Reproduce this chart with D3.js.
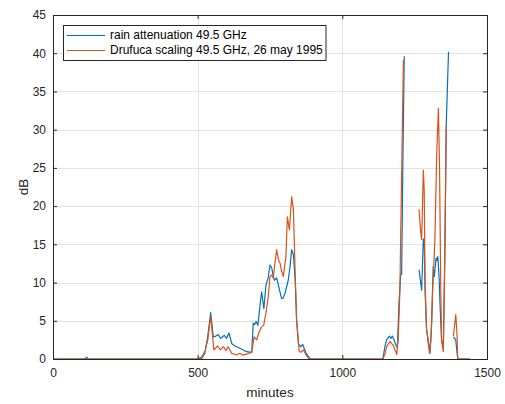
<!DOCTYPE html>
<html>
<head>
<meta charset="utf-8">
<script src="https://cdn.jsdelivr.net/npm/d3@7"></script>
<style>
  html, body { margin: 0; padding: 0; background: #ffffff; }
  svg { display: block; font-family: "Liberation Sans", Arial, Helvetica, sans-serif; }
</style>
</head>
<body>
<svg id="chart" width="505" height="404"></svg>
<script>
// Measured rain attenuation (minutes of day, dB); null marks a gap in the record
const rainMinutes = [0, 110, 116, 122, 500, 515, 525, 535, 545, 554, 563, 571, 580, 592, 600, 608, 618, 629, 646, 669, 687,
  692, 697, 702, 708, 715, 721, 729, 736, 743, 750, 756, 761, 765, 773, 780, 790, 796, 802, 813, 819, 825, 831, 837, 842,
  848, 856, 863, 869, 875, 883, 890, 1140, 1147, 1153, 1163, 1168, 1173, 1179, 1185, 1190, 1196, 1202, 1205, 1209, 1214,
  1240,
  1265, 1270, 1274, 1280, 1283, 1286, 1291, 1297, 1303, 1309, 1314, 1318, 1324, 1327, 1330, 1334, 1338, 1343, 1349, 1355,
  1359, 1367,
  1375,
  1384, 1392, 1396, 1399, 1440];
const rainDb = [0, 0, 0.25, 0, 0, 0.1, 0.8, 3.0, 6.06, 2.9, 3.0, 3.2, 2.7, 3.1, 2.7, 3.4, 2.0, 1.7, 1.4, 0.96, 0.87,
  4.7, 4.5, 4.9, 4.4, 6.8, 8.8, 6.6, 9.7, 10.5, 12.3, 11.9, 10.9, 10.3, 10.6, 9.5, 7.9, 8.0, 8.6, 10.3, 12.0, 14.3, 13.6, 10.3, 5.1,
  2.05, 1.6, 1.9, 1.3, 0.74, 0.3, 0, 0, 1.6, 2.5, 3.0, 2.7, 3.0, 2.5, 1.8, 1.5, 7.5, 11.2, 11.1, 25.0, 39.6,
  null,
  11.7, 10.2, 9.0, 15.6, 15.8, 9.0, 3.8, 2.5, 0.74, 4.7, 12.1, 10.8, 13.2, 12.9, 13.4, 11.0, 6.8, 2.5, 1.5, 15.6,
  30.4, 40.2,
  null,
  2.9, 2.5, 1.0, 0, 0];

// Drufuca frequency scaling prediction at 49.5 GHz
const scaledMinutes = [0, 500, 514, 525, 535, 545, 556, 569, 578, 589, 598, 605, 618, 635, 646, 657, 674, 687,
  695, 704, 713, 721, 728, 736, 744, 750, 756, 761, 767, 773, 779, 785, 790, 796, 805, 810, 817, 825, 831, 837, 842,
  851, 858, 865, 875, 885, 1140, 1147, 1153, 1165, 1171, 1176, 1182, 1188, 1193, 1199, 1205, 1211,
  1240,
  1265, 1270, 1274, 1277, 1280, 1283, 1286, 1291, 1297, 1301, 1306, 1312, 1320, 1326, 1332, 1336, 1340, 1343, 1349,
  1353, 1359,
  1375,
  1384, 1392, 1396, 1399, 1442];
const scaledDb = [0, 0, 0.3, 1.0, 2.5, 5.6, 1.2, 1.7, 1.2, 1.6, 1.1, 1.6, 0.74, 0.52, 0.74, 0.5, 0.7, 0.9,
  2.9, 2.5, 3.6, 4.2, 4.4, 6.0, 8.2, 10.8, 11.0, 10.6, 12.5, 14.3, 13.0, 12.5, 11.5, 10.8, 13.4, 18.6, 16.9, 21.2, 19.5, 11.2, 5.1,
  0.96, 0.9, 1.2, 0.5, 0, 0, 0.6, 1.6, 2.3, 2.0, 1.8, 1.2, 0.6, 2.5, 9.0, 24.3, 39.1,
  null,
  19.6, 17.0, 15.6, 20.0, 24.7, 22.0, 10.0, 4.0, 2.0, 0.8, 2.5, 9.0, 15.6, 26.5, 32.8, 25.0, 10.0, 2.5, 0.96,
  10.0, 30.4,
  null,
  3.0, 5.8, 3.5, 0, 0];

const xTicks = [0, 500, 1000, 1500];
const yTicks = [0, 5, 10, 15, 20, 25, 30, 35, 40, 45];
const seriesNames = ["rain attenuation 49.5 GHz", "Drufuca scaling 49.5 GHz, 26 may 1995"];
const seriesColors = ["#0072BD", "#D95319"];

const svg = d3.select("#chart");
const plot = { left: 53, top: 15, right: 487, bottom: 359 };
const ink = "#262626";

const x = d3.scaleLinear().domain([0, 1500]).range([plot.left, plot.right]);
const y = d3.scaleLinear().domain([0, 45]).range([plot.bottom, plot.top]);

// grid
const grid = svg.append("g").attr("stroke", "#e3e3e3").attr("stroke-width", 1);
grid.selectAll(".gx").data(xTicks.slice(1, -1)).join("line")
  .attr("x1", d => Math.round(x(d)) + 0.5).attr("x2", d => Math.round(x(d)) + 0.5)
  .attr("y1", plot.top).attr("y2", plot.bottom);
grid.selectAll(".gy").data(yTicks.slice(1, -1)).join("line")
  .attr("y1", d => Math.round(y(d)) + 0.5).attr("y2", d => Math.round(y(d)) + 0.5)
  .attr("x1", plot.left).attr("x2", plot.right);

// series
const seriesData = [
  rainMinutes.map((m, i) => [m, rainDb[i]]),
  scaledMinutes.map((m, i) => [m, scaledDb[i]])
];
const line = d3.line()
  .defined(d => d[1] !== null)
  .x(d => x(d[0]))
  .y(d => y(d[1]));

svg.append("g").selectAll("path").data(seriesData).join("path")
  .attr("d", line)
  .attr("fill", "none")
  .attr("stroke", (d, i) => seriesColors[i])
  .attr("stroke-width", 1.2)
  .attr("stroke-linejoin", "round");

// axes with inward ticks
const fontSize = 12;
const plain = d3.format("d");
const xAxis = svg.append("g").attr("transform", `translate(0,${plot.bottom})`)
  .call(d3.axisBottom(x).tickValues(xTicks).tickFormat(plain).tickSizeInner(-4).tickSizeOuter(0).tickPadding(9.5));
const yAxis = svg.append("g").attr("transform", `translate(${plot.left},0)`)
  .call(d3.axisLeft(y).tickValues(yTicks).tickFormat(plain).tickSizeInner(-4).tickSizeOuter(0).tickPadding(7));
const topAxis = svg.append("g").attr("transform", `translate(0,${plot.top})`)
  .call(d3.axisTop(x).tickValues(xTicks).tickSizeInner(-4).tickSizeOuter(0).tickFormat(""));
const rightAxis = svg.append("g").attr("transform", `translate(${plot.right},0)`)
  .call(d3.axisRight(y).tickValues(yTicks).tickSizeInner(-4).tickSizeOuter(0).tickFormat(""));

[xAxis, yAxis, topAxis, rightAxis].forEach(g => {
  g.select(".domain").remove();
  g.selectAll("line").attr("stroke", ink);
  g.selectAll("text").attr("fill", ink).style("font-size", fontSize + "px")
    .style("font-family", '"Liberation Sans", Arial, sans-serif');
});

// axes box
svg.append("rect")
  .attr("x", plot.left + 0.5).attr("y", plot.top + 0.5)
  .attr("width", plot.right - plot.left).attr("height", plot.bottom - plot.top)
  .attr("fill", "none").attr("stroke", ink).attr("stroke-width", 1);

// axis labels
svg.append("text")
  .attr("x", (plot.left + plot.right) / 2).attr("y", 397)
  .attr("text-anchor", "middle").attr("fill", ink).style("font-size", "13.5px")
  .text("minutes");
svg.append("text")
  .attr("transform", `translate(28,${(plot.top + plot.bottom) / 2}) rotate(-90)`)
  .attr("text-anchor", "middle").attr("fill", ink).style("font-size", "13.5px")
  .text("dB");

// legend
const legend = svg.append("g");
legend.append("rect")
  .attr("x", 63.5).attr("y", 25.5).attr("width", 262.5).attr("height", 35)
  .attr("fill", "#ffffff").attr("stroke", ink).attr("stroke-width", 1);
seriesNames.forEach((name, i) => {
  const cy = 35 + i * 15;
  legend.append("line")
    .attr("x1", 67).attr("x2", 105).attr("y1", cy + 0.5).attr("y2", cy + 0.5)
    .attr("stroke", seriesColors[i]).attr("stroke-width", 1.2);
  legend.append("text")
    .attr("x", 110).attr("y", cy).attr("dy", "0.35em")
    .attr("fill", "#000000").style("font-size", "12px")
    .text(name);
});
</script>
</body>
</html>
